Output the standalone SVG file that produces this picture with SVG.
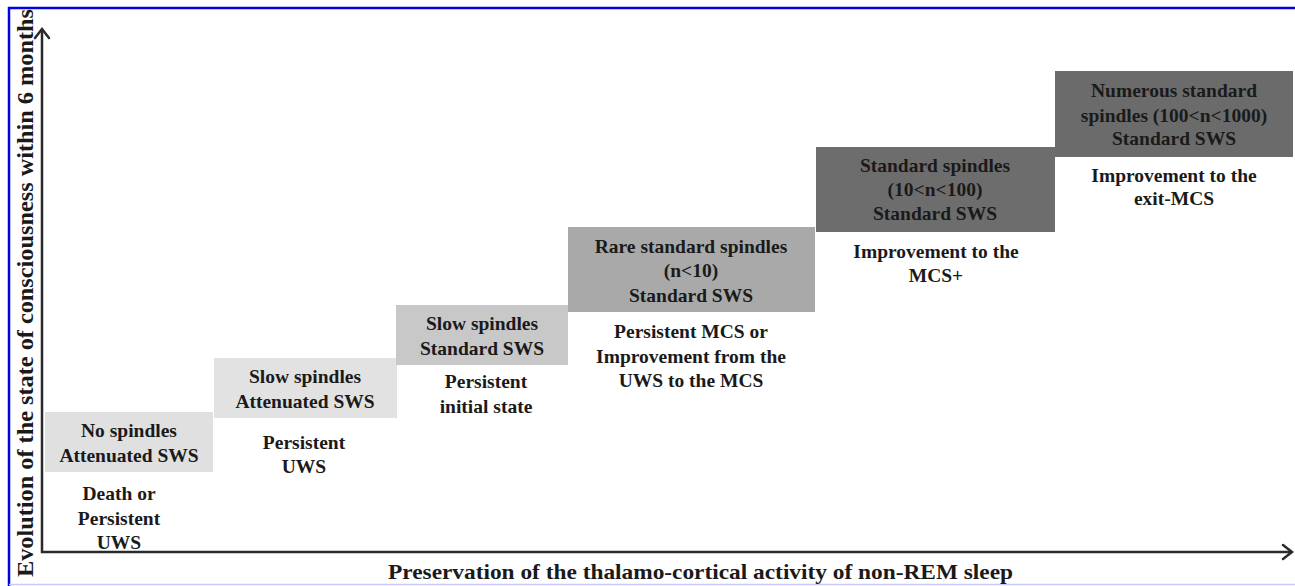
<svg xmlns="http://www.w3.org/2000/svg" width="1295" height="586" viewBox="0 0 1295 586">
  <style>
    .t { font-family: "Liberation Serif", "Times New Roman", serif; font-weight: bold; font-size: 19.5px; fill: #1a1a1a; text-anchor: middle; }
    .ax { font-family: "Liberation Serif", "Times New Roman", serif; font-weight: bold; fill: #1a1a1a; }
    .axis { stroke: #2a2a2a; stroke-width: 2.5; fill: none; }
    .head { stroke: #2a2a2a; stroke-width: 2.5; fill: none; stroke-linecap: round; stroke-linejoin: miter; }
  </style>
  <rect x="0" y="0" width="1295" height="586" fill="#ffffff"/>
  <!-- frame -->
  <line x1="8" y1="8" x2="1295" y2="8" stroke="#0000e6" stroke-width="2.5"/>
  <line x1="9" y1="7" x2="9" y2="586" stroke="#0000e6" stroke-width="2.5"/>
  <line x1="9" y1="584.5" x2="1295" y2="584.5" stroke="#c8c8ff" stroke-width="1.5"/>

  <!-- connectors (axes) -->
  <g id="axes">
    <polyline class="axis" points="42,29 42,552 1292,552"/>
    <polyline class="head" points="35,38 42,29 49,38"/>
    <polyline class="head" points="1283,545 1292,552 1283,559"/>
  </g>

  <text class="ax" font-size="22.5" x="0" y="0" transform="translate(33,577) rotate(-90)" textLength="568" lengthAdjust="spacingAndGlyphs">Evolution of the state of consciousness within 6 months</text>
  <text class="ax" font-size="21.5" x="388" y="579" textLength="625" lengthAdjust="spacingAndGlyphs">Preservation of the thalamo-cortical activity of non-REM sleep</text>

  <g id="node1">
    <rect x="45" y="412" width="168" height="60" fill="#e0e0e0"/>
    <text class="t" x="129" y="437">No spindles</text>
    <text class="t" x="129" y="462">Attenuated SWS</text>
    <text class="t" x="119" y="500">Death or</text>
    <text class="t" x="119" y="525">Persistent</text>
    <text class="t" x="119" y="549">UWS</text>
  </g>
  <g id="node2">
    <rect x="214" y="358" width="183" height="60" fill="#e2e2e2"/>
    <text class="t" x="305" y="383">Slow spindles</text>
    <text class="t" x="305" y="408">Attenuated SWS</text>
    <text class="t" x="304" y="449">Persistent</text>
    <text class="t" x="304" y="473">UWS</text>
  </g>
  <g id="node3">
    <rect x="396" y="305" width="172" height="60" fill="#c8c8c8"/>
    <text class="t" x="482" y="330">Slow spindles</text>
    <text class="t" x="482" y="355">Standard SWS</text>
    <text class="t" x="486" y="388">Persistent</text>
    <text class="t" x="486" y="413">initial state</text>
  </g>
  <g id="node4">
    <rect x="568" y="227" width="247" height="85" fill="#a9a9a9"/>
    <text class="t" x="691" y="253">Rare standard spindles</text>
    <text class="t" x="691" y="277">(n&lt;10)</text>
    <text class="t" x="691" y="302">Standard SWS</text>
    <text class="t" x="691" y="338">Persistent MCS or</text>
    <text class="t" x="691" y="363">Improvement from the</text>
    <text class="t" x="691" y="387">UWS to the MCS</text>
  </g>
  <g id="node5">
    <rect x="816" y="147" width="239" height="85" fill="#6d6d6d"/>
    <text class="t" x="935" y="172">Standard spindles</text>
    <text class="t" x="935" y="196">(10&lt;n&lt;100)</text>
    <text class="t" x="935" y="220">Standard SWS</text>
    <text class="t" x="936" y="258">Improvement to the</text>
    <text class="t" x="936" y="282">MCS+</text>
  </g>
  <g id="node6">
    <rect x="1055" y="71" width="238" height="86" fill="#6b6b6b"/>
    <text class="t" x="1174" y="97">Numerous standard</text>
    <text class="t" x="1174" y="122">spindles (100&lt;n&lt;1000)</text>
    <text class="t" x="1174" y="145">Standard SWS</text>
    <text class="t" x="1174" y="182">Improvement to the</text>
    <text class="t" x="1174" y="205">exit-MCS</text>
  </g>
</svg>
